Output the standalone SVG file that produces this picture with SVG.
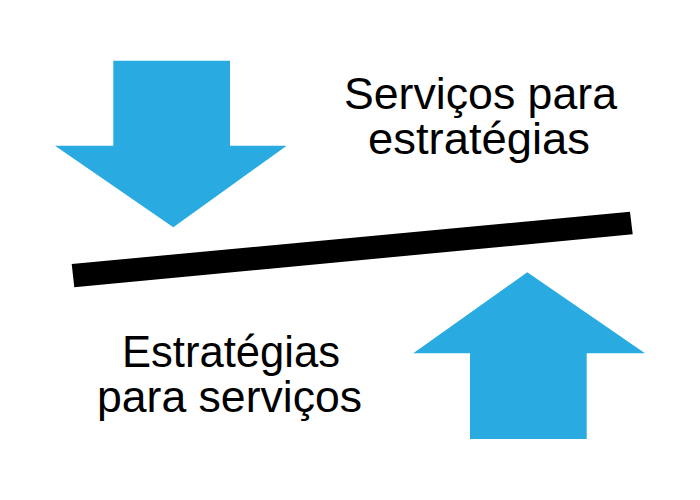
<svg xmlns="http://www.w3.org/2000/svg" width="700" height="500" viewBox="0 0 700 500">
<style>
.arrow{fill:#29abe2;}
.bar{fill:#000;}
.lbl{font-family:"Liberation Sans",Arial,sans-serif;font-size:44px;fill:#000;text-anchor:middle;}
</style>
<rect width="700" height="500" fill="#fff"/>
<g id="arrow-down">
<polygon class="arrow" points="113.3,60.7 230,60.7 230,145.7 286.7,145.7 173.3,227.3 55,145.7 113.3,145.7"/>
</g>
<g id="arrow-up">
<polygon class="arrow" points="527.3,272.3 645,353.3 586.7,353.3 586.7,439 470,439 470,353.3 413.3,353.3"/>
</g>
<g id="connectors">
<polygon class="bar" points="71.7,264 630,211.7 632.7,234.3 74.3,287.3"/>
</g>
<g id="label-top">
<text class="lbl" x="480.5" y="109" textLength="273" lengthAdjust="spacingAndGlyphs">Serviços para</text>
<text class="lbl" x="479" y="154" textLength="222" lengthAdjust="spacingAndGlyphs">estratégias</text>
</g>
<g id="label-bottom">
<text class="lbl" x="231" y="367" textLength="218" lengthAdjust="spacingAndGlyphs">Estratégias</text>
<text class="lbl" x="229.5" y="412" textLength="265" lengthAdjust="spacingAndGlyphs">para serviços</text>
</g>
</svg>
